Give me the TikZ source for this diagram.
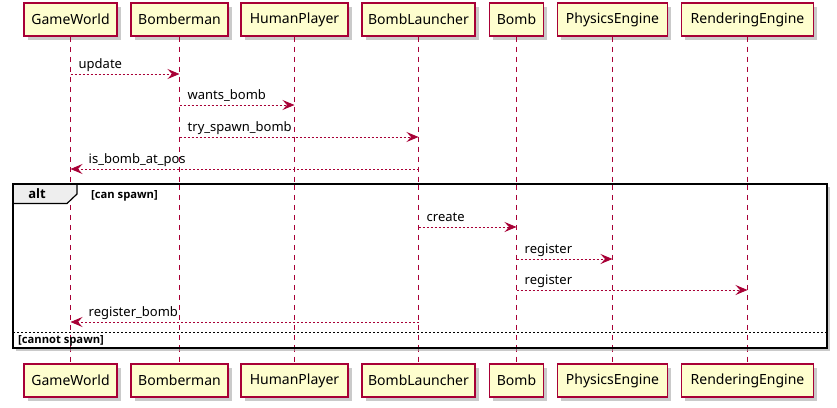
\documentclass[tikz,border=0pt]{standalone}
\usepackage{fontspec}
\setmainfont{Noto Sans}
\newfontfamily\groupfont{Open Sans}
\usetikzlibrary{arrows.meta,shadows,calc}
\definecolor{umlred}{HTML}{A80036}
\definecolor{umlfill}{HTML}{FEFECE}
\definecolor{tabfill}{HTML}{EEEEEE}
\tikzset{
  participant/.style={draw=umlred, fill=umlfill, line width=1.2pt, minimum height=33pt, inner sep=0pt,
    font=\fontsize{14}{16}\selectfont,
    drop shadow={shadow xshift=3.5pt, shadow yshift=-3.5pt, fill=black!35, opacity=0.6}},
  lifeline/.style={draw=umlred, line width=0.9pt, dash pattern=on 5pt off 5pt},
  msg/.style={draw=umlred, line width=0.9pt, dash pattern=on 2pt off 2pt,
    -{Stealth[length=12pt, width=10pt, inset=4.5pt, fill=umlred]}},
  msglabel/.style={font=\fontsize{13}{15}\selectfont, inner sep=0pt},
  grouplabel/.style={font=\groupfont\bfseries\fontsize{11.2}{13}\selectfont, inner sep=0pt},
}
\begin{document}
\begin{tikzpicture}[x=1pt,y=-1pt]
\useasboundingbox (0,0) rectangle (837,407);
% participants top
\node[participant, minimum width=93pt]  (gwT) at (70.5,19.5) {GameWorld};
\node[participant, minimum width=97pt]  (bmT) at (179.5,19.5) {Bomberman};
\node[participant, minimum width=107pt] (hpT) at (294.5,19.5) {HumanPlayer};
\node[participant, minimum width=113pt] (blT) at (418.5,19.5) {BombLauncher};
\node[participant, minimum width=54pt]  (bT)  at (516.5,19.5) {Bomb};
\node[participant, minimum width=110pt] (peT) at (612.5,19.5) {PhysicsEngine};
\node[participant, minimum width=132pt] (reT) at (747.5,19.5) {RenderingEngine};
% participants bottom
\node[participant, minimum width=93pt]  (gwB) at (70.5,380.5) {GameWorld};
\node[participant, minimum width=97pt]  (bmB) at (179.5,380.5) {Bomberman};
\node[participant, minimum width=107pt] (hpB) at (294.5,380.5) {HumanPlayer};
\node[participant, minimum width=113pt] (blB) at (418.5,380.5) {BombLauncher};
\node[participant, minimum width=54pt]  (bB)  at (516.5,380.5) {Bomb};
\node[participant, minimum width=110pt] (peB) at (612.5,380.5) {PhysicsEngine};
\node[participant, minimum width=132pt] (reB) at (747.5,380.5) {RenderingEngine};
% lifelines
\foreach \p in {gw,bm,hp,bl,b,pe,re}{
  \draw[lifeline] (\p T.south) -- (\p B.north);
}
% alt frame
\draw[line width=1.6pt, fill=white, drop shadow={shadow xshift=3pt, shadow yshift=-3pt, fill=black!35, opacity=0.6}] (13,184) rectangle (827,348);
\foreach \p in {gw,bm,hp,bl,b,pe,re}{
  \draw[lifeline] (\p T.south |- 0,184.8) -- (\p B.north |- 0,347.2);
}
\draw[line width=1.2pt, fill=tabfill] (13,184) -- (77,184) -- (77,194) -- (67,203.5) -- (13,203.5) -- cycle;
\draw[line width=1.6pt] (13,184) rectangle (827,348);
\node[font=\groupfont\bfseries\fontsize{13}{15}\selectfont, inner sep=0pt] (altlbl) at (37,194) {alt};
\node[grouplabel, anchor=west] (cond1) at (91,195.5) {[can spawn]};
\draw[line width=0.8pt, dash pattern=on 2pt off 2pt] (13,332) -- (827,332);
\node[grouplabel, anchor=west] (cond2) at (18,340.5) {[cannot spawn]};
% messages
\draw[msg] (gwT |- 0,74) -- (bmT |- 0,74);
\node[msglabel, anchor=base west] (m1) at ($(gwT |- 0,74)+(8,-6)$) {update};
\draw[msg] (bmT |- 0,105) -- (hpT |- 0,105);
\node[msglabel, anchor=base west] (m2) at ($(bmT |- 0,105)+(8,-6)$) {wants\_bomb};
\draw[msg] (bmT |- 0,137) -- (blT |- 0,137);
\node[msglabel, anchor=base west] (m3) at ($(bmT |- 0,137)+(8,-6)$) {try\_spawn\_bomb};
\draw[msg] (blT |- 0,169) -- (gwT |- 0,169);
\node[msglabel, anchor=base west] (m4) at ($(gwT |- 0,169)+(18,-6)$) {is\_bomb\_at\_pos};
\draw[msg] (blT |- 0,227) -- (bT |- 0,227);
\node[msglabel, anchor=base west] (m5) at ($(blT |- 0,227)+(8,-6)$) {create};
\draw[msg] (bT |- 0,259) -- (peT |- 0,259);
\node[msglabel, anchor=base west] (m6) at ($(bT |- 0,259)+(8,-6)$) {register};
\draw[msg] (bT |- 0,290) -- (reT |- 0,290);
\node[msglabel, anchor=base west] (m7) at ($(bT |- 0,290)+(8,-6)$) {register};
\draw[msg] (blT |- 0,322) -- (gwT |- 0,322);
\node[msglabel, anchor=base west] (m8) at ($(gwT |- 0,322)+(18,-6)$) {register\_bomb};
\end{tikzpicture}
\end{document}
